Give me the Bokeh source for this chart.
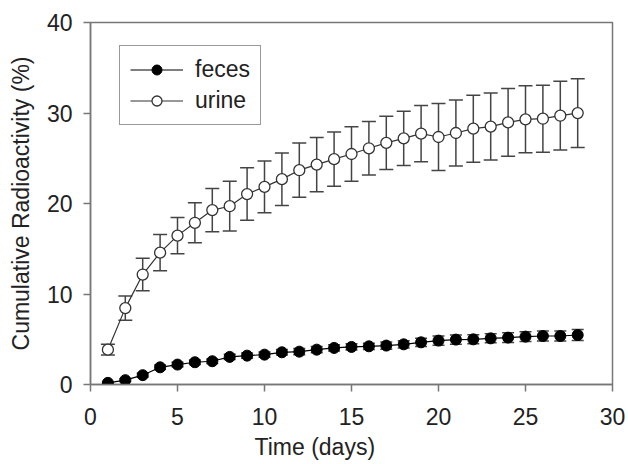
from bokeh.plotting import figure
from bokeh.models import ColumnDataSource, Whisker, TeeHead, Legend, LegendItem, FixedTicker, Range1d, Title
from bokeh.embed import file_html
from bokeh.resources import INLINE

days = list(range(1, 29))
urine = [3.85, 8.44, 12.15, 14.57, 16.45, 17.87, 19.27, 19.7, 21.04, 21.84,
         22.69, 23.68, 24.3, 24.9, 25.47, 26.1, 26.7, 27.2, 27.72, 27.35,
         27.79, 28.27, 28.5, 28.96, 29.3, 29.37, 29.7, 29.99]
urine_err = [0.6, 1.35, 1.8, 2.0, 2.0, 2.2, 2.4, 2.75, 2.9, 2.85,
             2.9, 3.0, 3.0, 3.0, 3.0, 2.95, 2.95, 3.0, 3.1, 3.7,
             3.65, 3.7, 3.7, 3.75, 3.7, 3.7, 3.8, 3.8]
feces = [0.18, 0.48, 1.03, 1.9, 2.2, 2.46, 2.57, 3.05, 3.19, 3.3,
         3.56, 3.63, 3.85, 4.04, 4.15, 4.22, 4.3, 4.44, 4.66, 4.85,
         4.96, 4.99, 5.1, 5.18, 5.29, 5.36, 5.36, 5.47]
feces_err = [0.1, 0.15, 0.2, 0.25, 0.25, 0.25, 0.25, 0.3, 0.3, 0.3,
             0.3, 0.35, 0.35, 0.35, 0.35, 0.35, 0.4, 0.4, 0.45, 0.5,
             0.5, 0.5, 0.5, 0.55, 0.55, 0.55, 0.55, 0.6]
x_ticks = [0, 5, 10, 15, 20, 25, 30]
y_ticks = [0, 10, 20, 30, 40]
x_title = "Time (days)"
y_title = "Cumulative Radioactivity (%)"

src_u = ColumnDataSource(dict(x=days, y=urine,
                              lo=[a - b for a, b in zip(urine, urine_err)],
                              hi=[a + b for a, b in zip(urine, urine_err)]))
src_f = ColumnDataSource(dict(x=days, y=feces,
                              lo=[a - b for a, b in zip(feces, feces_err)],
                              hi=[a + b for a, b in zip(feces, feces_err)]))

FONT = "Liberation Sans"
TXT = "#222222"
GRAY = "#777777"

p = figure(width=628, height=464, output_backend="svg", toolbar_location=None,
           x_range=Range1d(0, 30), y_range=Range1d(0, 40),
           min_border_left=90, min_border_right=16, min_border_top=22,
           min_border_bottom=79)
p.grid.visible = False
p.outline_line_color = GRAY
p.outline_line_width = 1.5

p.xaxis.ticker = FixedTicker(ticks=x_ticks)
p.yaxis.ticker = FixedTicker(ticks=y_ticks)
for ax in (p.xaxis[0], p.yaxis[0]):
    ax.axis_line_color = GRAY
    ax.axis_line_width = 1.5
    ax.major_tick_line_color = GRAY
    ax.major_tick_line_width = 1.5
    ax.major_tick_out = 7
    ax.major_tick_in = 0
    ax.minor_tick_line_color = None
    ax.major_label_text_font = FONT
    ax.major_label_text_font_size = "23px"
    ax.major_label_text_color = TXT
    ax.axis_label_text_font = FONT
    ax.axis_label_text_font_size = "23px"
    ax.axis_label_text_font_style = "normal"
    ax.axis_label_text_color = TXT
p.yaxis.axis_label = y_title
p.xaxis.major_label_standoff = 16
p.yaxis.major_label_standoff = 11
p.yaxis.axis_label_standoff = 10

# x-axis title, placed left of the frame centre as in the original
p.add_layout(Title(text=x_title, align="left", offset=164, standoff=9,
                   text_font=FONT, text_font_size="23px", text_font_style="normal",
                   text_color=TXT), "below")

wu = Whisker(source=src_u, base="x", upper="hi", lower="lo", dimension="height",
             line_color="#444444", line_width=1.5,
             upper_head=TeeHead(size=14, line_color="#444444", line_width=1.5),
             lower_head=TeeHead(size=14, line_color="#444444", line_width=1.5))
wf = Whisker(source=src_f, base="x", upper="hi", lower="lo", dimension="height",
             line_color="#444444", line_width=1.5,
             upper_head=TeeHead(size=12, line_color="#444444", line_width=1.5),
             lower_head=TeeHead(size=12, line_color="#444444", line_width=1.5))
p.add_layout(wu)
p.add_layout(wf)

lf = p.line("x", "y", source=src_f, line_color="black", line_width=1.2)
sf = p.scatter("x", "y", source=src_f, size=11, fill_color="black", line_color="black")
lu = p.line("x", "y", source=src_u, line_color="#333333", line_width=1.2)
su = p.scatter("x", "y", source=src_u, size=11, fill_color="white", line_color="#333333",
               line_width=1.3)

legend = Legend(items=[LegendItem(label="feces", renderers=[lf, sf]),
                       LegendItem(label="urine", renderers=[lu, su])],
                location=(29, 259))
legend.glyph_width = 53
legend.glyph_height = 25
legend.label_height = 25
legend.spacing = 4
legend.padding = 10
legend.label_standoff = 12
legend.label_text_font = FONT
legend.label_text_font_size = "23px"
legend.label_text_color = TXT
legend.border_line_color = "#333333"
legend.border_line_width = 1
legend.background_fill_alpha = 1
legend.margin = 0
p.add_layout(legend, "center")

open("out.html", "w").write(file_html(p, INLINE))
